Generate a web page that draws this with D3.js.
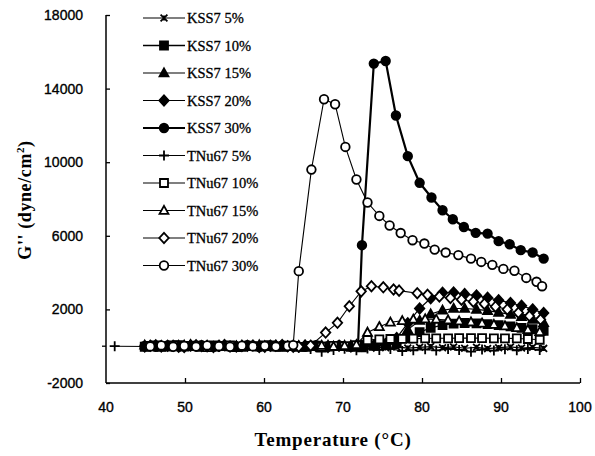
<!DOCTYPE html>
<html>
<head>
<meta charset="utf-8">
<script src="https://cdn.jsdelivr.net/npm/d3@7"></script>
<style>
  html, body { margin: 0; padding: 0; background: #fff; }
  svg { display: block; }
</style>
</head>
<body>
<svg id="chart" width="595" height="456"></svg>
<script>
// Loss modulus G'' versus temperature for KSS7 and TNu67 at several concentrations.
// Each series is a list of [temperature (°C), G'' (dyne/cm²)] readings.

const xTicks = [40, 50, 60, 70, 80, 90, 100];
const yTicks = [-2000, 2000, 6000, 10000, 14000, 18000];

const seriesNames = [
  "KSS7 5%", "KSS7 10%", "KSS7 15%", "KSS7 20%", "KSS7 30%",
  "TNu67 5%", "TNu67 10%", "TNu67 15%", "TNu67 20%", "TNu67 30%"
];

const kss7_5 = [[44.9,30],[46.3,-20],[47.8,50],[49.2,0],[50.7,-40],[52.1,60],[53.6,10],[55.0,-30],[56.5,40],[57.9,-10],[59.4,20],[60.8,-50],[62.3,30],[63.7,-20],[65.2,10],[66.6,-40],[68.1,20],[69.5,-30],[71.0,0],[72.4,-60],[73.9,-20],[75.4,-80],[76.8,-40],[78.2,-100],[79.7,-60],[81.1,-20],[82.6,-80],[84.0,-40],[85.4,-110],[86.9,-60],[88.3,-130],[89.7,-80],[91.2,-40],[92.6,-100],[94.0,-60],[95.4,-120]];

const kss7_10 = [[44.9,-30],[46.3,40],[47.8,-10],[49.2,60],[50.7,20],[52.1,-40],[53.6,50],[55.0,0],[56.5,-50],[57.9,30],[59.4,-20],[60.8,40],[62.3,-30],[63.7,20],[65.2,-40],[66.6,30],[68.1,-20],[69.5,10],[71.0,-40],[72.4,-60],[73.9,20],[75.4,60],[76.8,150],[78.2,420],[79.7,760],[81.1,1000],[82.6,1150],[84.0,1230],[85.4,1260],[86.9,1240],[88.3,1200],[89.7,1150],[91.2,1080],[92.6,1000],[94.0,920],[95.4,830]];

const kss7_15 = [[44.9,50],[46.3,0],[47.8,-40],[49.2,30],[50.7,80],[52.1,-10],[53.6,-50],[55.0,40],[56.5,10],[57.9,-30],[59.4,60],[60.8,0],[62.3,-40],[63.7,50],[65.2,20],[66.6,-20],[68.1,40],[69.5,-10],[71.0,30],[72.4,0],[73.9,40],[75.4,120],[76.8,380],[78.2,900],[79.7,1400],[81.1,1750],[82.6,1950],[84.0,2050],[85.4,2050],[86.9,2000],[88.3,1930],[89.7,1840],[91.2,1720],[92.6,1600],[94.0,1450],[95.4,1280]];

const kss7_20 = [[44.9,-10],[46.3,50],[47.8,20],[49.2,-30],[50.7,40],[52.1,10],[53.6,-40],[55.0,60],[56.5,-20],[57.9,20],[59.4,-40],[60.8,30],[62.3,60],[63.7,-30],[65.2,40],[66.6,0],[68.1,-40],[69.5,30],[71.0,-20],[72.4,20],[73.9,30],[75.4,100],[76.8,450],[78.2,1250],[79.7,2050],[81.1,2600],[82.6,2900],[84.0,2920],[85.4,2830],[86.9,2750],[88.3,2630],[89.7,2500],[91.2,2350],[92.6,2200],[94.0,2000],[95.4,1800]];

const kss7_30 = [[44.9,20],[46.3,-30],[47.8,40],[49.2,-20],[50.7,10],[52.1,50],[53.6,-30],[55.0,20],[56.5,-10],[57.9,50],[59.4,-30],[60.8,10],[62.3,40],[63.7,-10],[65.2,-30],[66.6,50],[68.1,0],[69.5,40],[71.0,-20],[71.9,20],[72.4,5490],[73.9,15360],[75.4,15500],[76.7,12540],[78.2,10330],[79.7,8880],[81.2,8080],[82.6,7390],[83.9,6900],[85.3,6480],[86.8,6160],[88.3,6120],[89.7,5710],[91.1,5540],[92.5,5220],[94.0,5090],[95.4,4760]];

const tnu67_5 = [[41.1,0],[45.6,-20],[47.0,30],[48.5,-10],[49.9,40],[51.4,-30],[52.8,20],[54.3,-40],[55.7,10],[57.2,-20],[58.6,30],[60.1,-30],[61.5,10],[63.0,-40],[64.4,-80],[65.9,-150],[67.3,-300],[68.8,-200],[70.2,-140],[71.7,-220],[73.1,-120],[74.6,-200],[76.0,-150],[77.5,-260],[78.9,-220],[80.4,-170],[81.8,-230],[83.3,-150],[84.7,-200],[86.2,-300],[87.6,-180],[89.1,-240],[90.5,-160],[92.0,-220],[93.4,-150],[94.9,-200]];

const tnu67_10 = [[45.6,10],[47.0,-40],[48.5,40],[49.9,-20],[51.4,30],[52.8,-50],[54.3,20],[55.7,40],[57.2,-30],[58.6,0],[60.1,50],[61.5,-20],[63.0,30],[64.4,-40],[65.9,10],[67.3,-30],[68.8,20],[70.2,0],[71.7,60],[73.1,330],[74.6,370],[76.0,390],[77.5,400],[78.9,410],[80.4,420],[81.8,430],[83.3,430],[84.7,440],[86.2,440],[87.6,440],[89.1,430],[90.5,430],[92.0,420],[93.4,390],[94.9,350]];

const tnu67_15 = [[45.6,-40],[47.0,20],[48.5,-20],[49.9,50],[51.4,0],[52.8,30],[54.3,-20],[55.7,-40],[57.2,40],[58.6,-20],[60.1,10],[61.5,40],[63.0,-30],[64.4,20],[65.9,-20],[67.3,40],[68.8,-10],[70.2,30],[71.7,80],[73.1,750],[74.6,1060],[76.0,1300],[77.5,1380],[78.9,1460],[80.4,1480],[81.8,1460],[83.3,1420],[84.7,1370],[86.2,1310],[87.6,1250],[89.1,1180],[90.5,1100],[92.0,1000],[93.4,900],[94.9,790]];

const tnu67_20 = [[45.6,30],[47.0,-10],[48.5,20],[49.9,-40],[51.4,50],[52.8,0],[54.3,30],[55.7,-20],[57.2,10],[58.6,40],[60.1,-30],[61.5,20],[63.0,0],[64.4,-20],[65.9,30],[67.8,740],[69.3,1270],[70.8,2170],[72.3,2980],[73.6,3260],[75.1,3200],[76.4,3080],[77.1,3020],[79.4,2880],[80.7,2790],[82.2,2700],[83.6,2620],[85.0,2530],[86.5,2420],[87.9,2300],[89.3,2150],[90.8,2000],[92.2,1820],[93.6,1640],[95.0,1450]];

const tnu67_30 = [[45.6,-10],[47.0,40],[48.5,-30],[49.9,10],[51.4,-20],[52.8,40],[54.3,0],[55.7,-30],[57.2,30],[58.6,-10],[60.1,20],[61.5,-20],[63.0,10],[63.7,60],[64.4,4080],[66.0,9600],[67.6,13420],[69.0,13150],[70.3,10830],[71.7,9060],[73.1,7810],[74.6,7080],[75.9,6560],[77.3,6150],[78.8,5760],[80.3,5580],[81.6,5250],[83.0,5090],[84.6,4950],[86.2,4760],[87.5,4580],[88.9,4420],[90.3,4200],[91.7,4100],[93.2,3710],[94.5,3500],[95.2,3260]];

const seriesData = [kss7_5, kss7_10, kss7_15, kss7_20, kss7_30, tnu67_5, tnu67_10, tnu67_15, tnu67_20, tnu67_30];

// marker shape, fill and line width for each series
const markerShapes = ["times", "square", "triangle", "diamond", "circle", "plus", "square", "triangle", "diamond", "circle"];
const markerFilled = [true, true, true, true, true, true, false, false, false, false];
const lineWidths = [1.2, 1.3, 1.2, 1.2, 2.2, 1.1, 1.1, 1.1, 1.1, 1.1];

const svg = d3.select("#chart");
const margin = { left: 106, right: 580, top: 15, bottom: 383 };

const x = d3.scaleLinear().domain([40, 100]).range([margin.left, margin.right]);
const y = d3.scaleLinear().domain([-2000, 18000]).range([margin.bottom, margin.top]);

function markerPath(shape, s) {
  const h = s / 2;
  switch (shape) {
    case "square": return `M${-h},${-h}H${h}V${h}H${-h}Z`;
    case "triangle": return `M0,${-h * 1.1}L${h * 1.05},${h * 0.8}L${-h * 1.05},${h * 0.8}Z`;
    case "diamond": return `M0,${-h * 1.15}L${h * 1.05},0L0,${h * 1.15}L${-h * 1.05},0Z`;
    case "circle": return `M${h},0A${h},${h} 0 1 1 ${-h},0A${h},${h} 0 1 1 ${h},0Z`;
    case "plus": return `M${-h},0H${h}M0,${-h}V${h}`;
    case "times": return `M${-h * 0.8},${-h * 0.8}L${h * 0.8},${h * 0.8}M${-h * 0.8},${h * 0.8}L${h * 0.8},${-h * 0.8}M0,${-h * 0.6}V${h * 0.6}`;
  }
}
const markerSize = { square: 8, triangle: 8.5, diamond: 9, circle: 8.6, plus: 10, times: 8.5 };

function drawMarker(g, shape, filled) {
  const stroked = shape === "plus" || shape === "times";
  g.append("path")
    .attr("d", markerPath(shape, markerSize[shape]))
    .attr("fill", stroked ? "none" : (filled ? "#000" : "#fff"))
    .attr("stroke", "#000")
    .attr("stroke-width", stroked ? 1.8 : 1.8);
}

// axes
const axes = svg.append("g").attr("stroke", "#000").attr("stroke-width", 1.5);
axes.append("line").attr("x1", margin.left).attr("x2", margin.left).attr("y1", margin.top).attr("y2", margin.bottom);
axes.append("line").attr("x1", margin.left).attr("x2", margin.right).attr("y1", margin.bottom).attr("y2", margin.bottom);

const yAxis = d3.axisRight(y).tickValues(yTicks).tickSize(4).tickFormat("");
svg.append("g").attr("transform", `translate(${margin.left},0)`).call(yAxis)
  .call(g => g.select(".domain").remove())
  .selectAll("line").attr("stroke", "#000").attr("stroke-width", 1.3);
// small outside tick at zero
svg.append("line").attr("x1", margin.left - 4).attr("x2", margin.left).attr("y1", y(0)).attr("y2", y(0))
  .attr("stroke", "#000").attr("stroke-width", 1.3);

const xAxis = d3.axisTop(x).tickValues(xTicks.filter(v => v > 40)).tickSize(5).tickFormat("");
svg.append("g").attr("transform", `translate(0,${margin.bottom})`).call(xAxis)
  .call(g => g.select(".domain").remove())
  .selectAll("line").attr("stroke", "#000").attr("stroke-width", 1.3);

// tick labels
svg.append("g").selectAll("text").data(yTicks).join("text")
  .attr("x", 83).attr("y", d => y(d) + 5)
  .attr("text-anchor", "end")
  .attr("font-family", "Liberation Sans, Arial, sans-serif")
  .attr("font-size", 14).attr("fill", "#000")
  .attr("stroke", "#000").attr("stroke-width", 0.35)
  .text(d => d);

svg.append("g").selectAll("text").data(xTicks).join("text")
  .attr("x", d => x(d)).attr("y", 412)
  .attr("text-anchor", "middle")
  .attr("font-family", "Liberation Sans, Arial, sans-serif")
  .attr("font-size", 14).attr("fill", "#000")
  .attr("stroke", "#000").attr("stroke-width", 0.35)
  .text(d => d);

// axis titles
svg.append("text")
  .attr("x", 333).attr("y", 446)
  .attr("text-anchor", "middle")
  .attr("font-family", "Liberation Serif, Times New Roman, serif")
  .attr("font-weight", "bold").attr("font-size", 19)
  .attr("letter-spacing", 0.8)
  .text("Temperature (°C)");

const yTitle = svg.append("text")
  .attr("transform", "translate(31,200) rotate(-90)")
  .attr("text-anchor", "middle")
  .attr("font-family", "Liberation Serif, Times New Roman, serif")
  .attr("font-weight", "bold").attr("font-size", 18)
  .attr("letter-spacing", 0.6);
yTitle.append("tspan").text("G'' (dyne/cm");
yTitle.append("tspan").attr("font-size", 11).attr("dy", -7).text("2");
yTitle.append("tspan").attr("dy", 7).text(")");

// series lines and markers
const line = d3.line().x(d => x(d[0])).y(d => y(d[1]));
seriesData.forEach((data, i) => {
  const g = svg.append("g");
  g.append("path").datum(data)
    .attr("d", line)
    .attr("fill", "none")
    .attr("stroke", "#000")
    .attr("stroke-width", lineWidths[i]);
  g.selectAll("g.pt").data(data).join("g")
    .attr("class", "pt")
    .attr("transform", d => `translate(${x(d[0])},${y(d[1])})`)
    .each(function () { drawMarker(d3.select(this), markerShapes[i], markerFilled[i]); });
});

// legend
const legend = svg.append("g");
seriesNames.forEach((name, i) => {
  const ly = 18 + i * 27.5;
  const item = legend.append("g");
  item.append("line").attr("x1", 143).attr("x2", 185).attr("y1", ly).attr("y2", ly)
    .attr("stroke", "#000").attr("stroke-width", lineWidths[i]);
  const m = item.append("g").attr("transform", `translate(164,${ly})`);
  drawMarker(m, markerShapes[i], markerFilled[i]);
  item.append("text")
    .attr("x", 187).attr("y", ly + 5)
    .attr("font-family", "Liberation Serif, Times New Roman, serif")
    .attr("font-size", 14.5).attr("fill", "#000")
    .attr("stroke", "#000").attr("stroke-width", 0.3)
    .text(name);
});
</script>
</body>
</html>
